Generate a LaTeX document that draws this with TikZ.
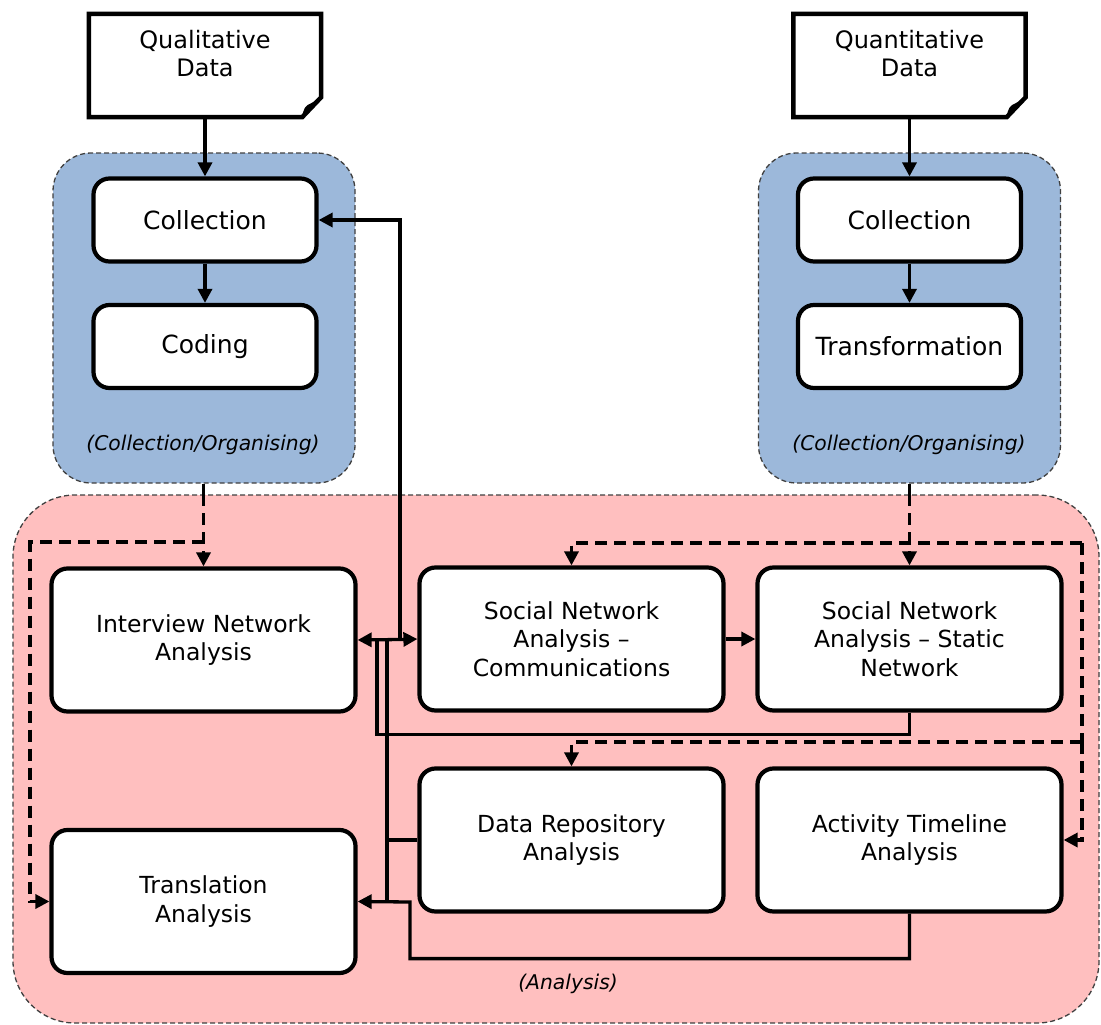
\documentclass[tikz,border=0pt]{standalone}
\usepackage{fontspec}
\setmainfont{DejaVu Sans}
\usetikzlibrary{arrows.meta}
\definecolor{grpblue}{HTML}{9CB8DA}
\definecolor{grppink}{HTML}{FFBFBF}
\begin{document}
\begin{tikzpicture}[x=1pt,y=-1pt,
  boxstyle/.style={draw, line width=4.2pt, rounded corners=16pt, fill=white, align=center,
    font=\fontsize{23.5}{28.5}\selectfont, inner sep=0pt},
  smallbox/.style={boxstyle, minimum width=223pt, minimum height=83pt, font=\fontsize{25}{29}\selectfont},
  bigbox/.style={boxstyle, minimum width=304pt, minimum height=143pt},
  docbox/.style={inner sep=0pt, minimum width=232pt, minimum height=103pt},
  doctext/.style={align=center, font=\fontsize{24}{28}\selectfont},
  groupbase/.style={draw=black!75, line width=1.3pt, dash pattern=on 5pt off 3pt, inner sep=0pt},
  bluegrp/.style={groupbase, fill=grpblue, rounded corners=38pt, minimum width=302pt, minimum height=330pt},
  pinkgrp/.style={groupbase, fill=grppink, rounded corners=62pt, minimum width=1086pt, minimum height=528pt},
  grplabel/.style={font=\fontsize{20.3}{24}\selectfont\itshape},
  tip/.style={-{Triangle[length=14pt,width=14pt]}},
  conn/.style={line width=3.3pt},
  dconn/.style={line width=3.3pt, dash pattern=on 12pt off 7pt},
]
\useasboundingbox (0,0) rectangle (1101,1025);

% group backgrounds
\node[pinkgrp] (gP) at (556,759) {};
\node[bluegrp] (gL) at (204,318) {};
\node[bluegrp] (gR) at (909.5,318) {};
\node[grplabel] (gLlbl) at (203,445) {(Collection/Organising)};
\node[grplabel] (gRlbl) at (909,445) {(Collection/Organising)};
\node[grplabel] (gPlbl) at (568,984) {(Analysis)};

% document shapes
\node[docbox] (qual) at (205,65.5) {};
\node[docbox] (quant) at (909.5,65.5) {};
\foreach \d in {qual,quant}{
  \draw[line width=4.5pt, fill=white, line join=miter]
    (\d.north west) -- (\d.north east) -- ([yshift=20pt]\d.south east)
    -- ([xshift=-19pt]\d.south east) -- (\d.south west) -- cycle;
  \fill ([xshift=-19pt]\d.south east) .. controls ([xshift=-18pt,yshift=8pt]\d.south east) and ([xshift=-16pt,yshift=12pt]\d.south east) .. ([xshift=-10pt,yshift=14pt]\d.south east)
    -- ([yshift=20pt]\d.south east) -- ([xshift=-8pt,yshift=9pt]\d.south east) -- cycle;
}
\node[doctext] (qualtxt) at (205,54) {Qualitative\\Data};
\node[doctext] (quanttxt) at (909.5,54) {Quantitative\\Data};

% boxes in blue groups
\node[smallbox] (collL) at (205,220) {Collection};
\node[smallbox] (coding) at (205,346.5) {Coding};
\node[smallbox] (collR) at (909.5,220) {Collection};
\node[smallbox] (transf) at (909.5,346.5) {Transformation};

% analysis boxes
\node[bigbox] (inter) at (203.5,640) {Interview Network\\Analysis};
\node[bigbox] (trans) at (203.5,901.5) {Translation\\Analysis};
\node[bigbox] (snac) at (571.5,639) {Social Network\\Analysis --\\Communications};
\node[bigbox] (snas) at (909.5,639) {Social Network\\Analysis -- Static\\Network};
\node[bigbox] (dr) at (571.5,840) {Data Repository\\Analysis};
\node[bigbox] (at) at (909.5,840) {Activity Timeline\\Analysis};

% junction coordinates
\coordinate (j400) at (400,639.5);
\coordinate (j377) at (377,639.5);
\coordinate (j387) at (387,639.5);
\coordinate (b387) at (387,902);
\coordinate (dL) at (30,542);
\coordinate (dR1) at (1082,543);
\coordinate (dR2) at (1082,742);

% solid connectors in top part
\draw[conn,tip] (qual.south) -- (collL.north);
\draw[conn,tip] (collL.south) -- (coding.north);
\draw[conn,tip] (quant.south) -- (collR.north);
\draw[conn,tip] (collR.south) -- (transf.north);

% dashed connectors
\draw[conn] (inter.north |- gL.south) -- (inter.north |- gP.north);
\draw[dconn,tip] (inter.north |- gP.north) -- (inter.north);
\draw[dconn,tip] (inter.north |- dL) -| (dL) |- (trans.west);
\draw[conn] (gR.south) -- (gR.south |- gP.north);
\draw[dconn,tip] (gR.south |- gP.north) -- (snas.north);
\draw[dconn,tip] (dR1) -- (snac.north |- dR1) -- (snac.north);
\draw[dconn] (dR1) -- (dR2);
\draw[dconn,tip] (dR2) -| (dr.north);
\draw[dconn,tip] (dR2) |- (at.east);

% solid connectors in analysis part
\draw[conn,tip] (snac.east) -- (snas.west);
\draw[conn,tip] (j400) |- (collL.east);
\draw[conn,tip] (j400) -- (snac.west);
\draw[conn,tip] (j400) -- (inter.east);
\draw[conn] (snas.south) -- ++(0,22) -| (j377);
\draw[conn] (j387) -- (b387);
\draw[conn] (dr.west) -- (dr.west -| b387);
\draw[conn,tip] (at.south) -- ++(0,45) -| (410,902) -- (trans.east);
\end{tikzpicture}
\end{document}
